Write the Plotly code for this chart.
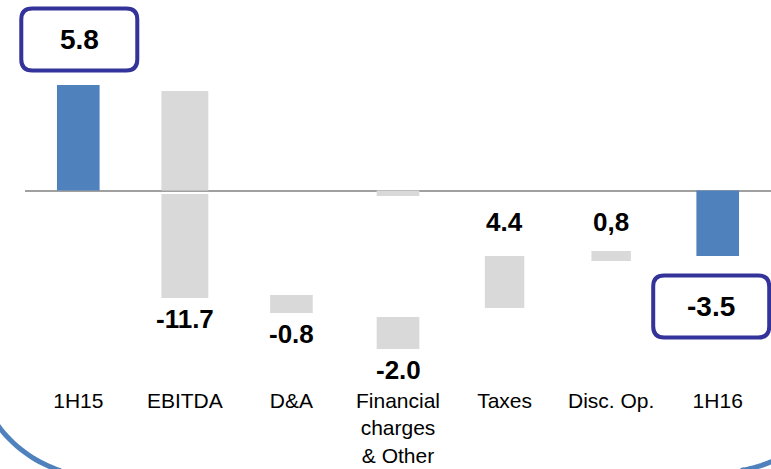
import numpy as np
import plotly.graph_objects as go

# ---------------- data ----------------
categories = ["1H15", "EBITDA", "D&A", "Financial<br>charges<br>& Other", "Taxes", "Disc. Op.", "1H16"]
value_labels = ["5.8", "-11.7", "-0.8", "-2.0", "4.4", "0,8", "-3.5"]
values = [5.8, -11.7, -0.8, -2.0, 4.4, 0.8, -3.5]
# bar extents as drawn in the picture (data units)
bar_top = [5.83, 5.50, -5.77, -6.99, -3.62, -3.34, 0.0]
bar_bottom = [0.0, 0.0, -6.77, -8.76, -6.49, -3.90, -3.62]
is_total = [True, False, False, False, False, False, True]
# small extra gray segments (EBITDA below the axis, Financial sliver at axis)
extra_idx = [1, 3]
extra_top = [-0.19, 0.0]
extra_bottom = [-5.94, -0.30]

# ---------------- layout constants ----------------
W, H = 771, 469
ML, MB = 25, 83
PLOT_W = W - ML
PLOT_H = H - MB
ZERO_PX = 190.5
S = 18.1  # px per unit
Y_RANGE = [-(PLOT_H - ZERO_PX) / S, ZERO_PX / S]
N = len(categories)

BLUE = "#4f81bd"
GRAY = "#d9d9d9"
BOX = "#333399"
FONT = "Liberation Sans, Arial, sans-serif"

widths = [0.40, 0.44, 0.40, 0.40, 0.37, 0.37, 0.40]


def x_px(c):
    return ML + (c + 0.5) * PLOT_W / N


def y_px(v):
    return ZERO_PX - v * S


def y_val(py):
    return (ZERO_PX - py) / S


def px_to_paper(px, py):
    return (px - ML) / PLOT_W, (PLOT_H - py) / PLOT_H


fig = go.Figure()

fig.add_trace(go.Bar(
    x=list(range(N)),
    y=[t - b for t, b in zip(bar_top, bar_bottom)],
    base=bar_bottom,
    width=widths,
    marker=dict(color=[BLUE if t else GRAY for t in is_total], line=dict(width=0)),
    hoverinfo="skip",
))
fig.add_trace(go.Bar(
    x=extra_idx,
    y=[t - b for t, b in zip(extra_top, extra_bottom)],
    base=extra_bottom,
    width=[widths[i] for i in extra_idx],
    marker=dict(color=GRAY, line=dict(width=0)),
    hoverinfo="skip",
))

annotations = []
shapes = []

# lowest drawn extent of each column
lowest = list(bar_bottom)
for i, b in zip(extra_idx, extra_bottom):
    lowest[i] = min(lowest[i], b)

pos_top = max(bar_top[j] for j in range(N) if not is_total[j] and values[j] > 0)

# value labels for movement bars
for i in range(N):
    if is_total[i]:
        continue
    if values[i] < 0:
        cy = y_px(lowest[i]) + 21
    else:
        cy = y_px(pos_top) - 29
    annotations.append(dict(
        x=i, y=y_val(cy), xref="x", yref="y", text=value_labels[i], showarrow=False,
        font=dict(family=FONT, size=26, color="black", weight="bold"),
        xanchor="center", yanchor="middle",
    ))


def rounded_rect(cx, cy, w, h, r):
    x0, x1 = cx - w / 2, cx + w / 2
    y0, y1 = cy - h / 2, cy + h / 2
    pts = [
        ("M", (x0 + r, y0)), ("L", (x1 - r, y0)), ("Q", (x1, y0), (x1, y0 + r)),
        ("L", (x1, y1 - r)), ("Q", (x1, y1), (x1 - r, y1)),
        ("L", (x0 + r, y1)), ("Q", (x0, y1), (x0, y1 - r)),
        ("L", (x0, y0 + r)), ("Q", (x0, y0), (x0 + r, y0)),
    ]
    out = []
    for p in pts:
        cmd = p[0]
        coords = []
        for (px, py) in p[1:]:
            ax, ay = px_to_paper(px, py)
            coords.append(f"{ax:.5f},{ay:.5f}")
        out.append(cmd + " " + " ".join(coords))
    return " ".join(out) + " Z"


# boxed totals
for i in range(N):
    if not is_total[i]:
        continue
    if values[i] >= 0:
        cx, cy = x_px(i) + 1, y_px(bar_top[i]) - 45.5
    else:
        cx, cy = x_px(i) - 6.5, y_px(bar_bottom[i]) + 50.5
    shapes.append(dict(type="path", xref="paper", yref="paper",
                       path=rounded_rect(cx, cy, 116, 62, 11),
                       line=dict(color=BOX, width=4), fillcolor="white", layer="above"))
    annotations.append(dict(
        x=i + (cx - x_px(i)) * N / PLOT_W, y=y_val(cy), xref="x", yref="y",
        text=value_labels[i], showarrow=False,
        font=dict(family=FONT, size=28, color="black", weight="bold"),
        xanchor="center", yanchor="middle",
    ))


# decorative slide frame arcs (bottom corners)
def arc_path(cx, cy, r, a0, a1, n=40):
    ang = np.linspace(a0, a1, n)
    parts = []
    for k, a in enumerate(ang):
        px = cx + r * np.cos(a)
        py = cy + r * np.sin(a)
        ax, ay = px_to_paper(px, py)
        parts.append(("M " if k == 0 else "L ") + f"{ax:.5f},{ay:.5f}")
    return " ".join(parts)


shapes.append(dict(type="path", xref="paper", yref="paper",
                   path=arc_path(100, 350, 127, np.pi * 0.6, np.pi * 1.05),
                   line=dict(color=BLUE, width=5)))
shapes.append(dict(type="path", xref="paper", yref="paper",
                   path=arc_path(721, 345, 127, np.pi * 0.1, np.pi * 0.45),
                   line=dict(color=BLUE, width=5)))

fig.update_layout(
    width=W, height=H,
    margin=dict(l=ML, r=0, t=0, b=MB),
    paper_bgcolor="white", plot_bgcolor="white",
    showlegend=False,
    barmode="overlay",
    annotations=annotations,
    shapes=shapes,
    xaxis=dict(
        tickmode="array", tickvals=list(range(N)), ticktext=categories,
        range=[-0.5, N - 0.5], showgrid=False, showline=False, zeroline=False,
        ticks="", tickfont=dict(family=FONT, size=21, color="black"),
        ticklabelstandoff=0, automargin=False,
        fixedrange=True,
    ),
    yaxis=dict(
        range=Y_RANGE, showgrid=False, showticklabels=False, showline=False,
        zeroline=True, zerolinecolor="#a0a0a0", zerolinewidth=2, fixedrange=True,
        automargin=False,
    ),
)

fig.write_html("out.html")
